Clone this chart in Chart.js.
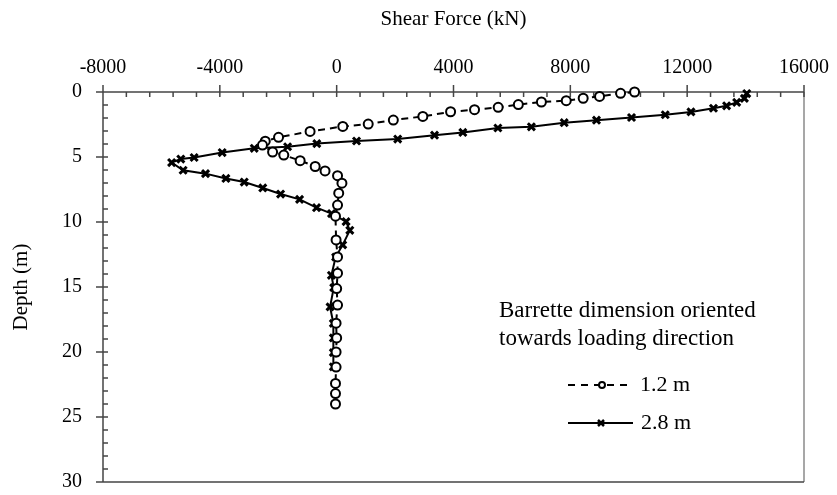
<!DOCTYPE html>
<html>
<head>
<meta charset="utf-8">
<script src="https://cdn.jsdelivr.net/npm/chart.js@4.4.1/dist/chart.umd.min.js"></script>
<style>
  html, body { margin: 0; padding: 0; background: #fff; }
  #wrap { width: 837px; height: 495px; }
</style>
</head>
<body>
<div id="wrap"><canvas id="c" width="837" height="495"></canvas></div>
<script>
// Shear force profile along the barrette depth, two barrette sizes.
const depth12 = [0, 0.1, 0.34, 0.48, 0.67, 0.77, 0.97, 1.18, 1.36, 1.52, 1.88, 2.16, 2.47, 2.65,
  3.03, 3.49, 3.78, 4.08, 4.62, 4.85, 5.28, 5.73, 6.07, 6.44, 7.01, 7.78, 8.7, 9.55,
  11.38, 12.69, 13.94, 15.12, 16.39, 17.78, 18.92, 20.0, 21.16, 22.42, 23.2, 24.0];
const shear12 = [10200, 9720, 9000, 8440, 7860, 7010, 6220, 5530, 4720, 3900, 2950, 1940, 1080, 210,
  -910, -1990, -2445, -2540, -2194, -1810, -1250, -735, -398, 30, 180, 70, 30, -40,
  -20, 30, 30, 0, 30, -20, 0, -20, -20, -40, -40, -40];

const depth28 = [0.12, 0.49, 0.8, 1.06, 1.25, 1.53, 1.75, 1.96, 2.17, 2.36, 2.68, 2.77, 3.11, 3.32,
  3.62, 3.77, 3.97, 4.21, 4.33, 4.66, 5.04, 5.16, 5.43, 6.02, 6.28, 6.65, 6.93, 7.38,
  7.85, 8.26, 8.9, 9.35, 9.97, 10.64, 11.76, 12.7, 14.1, 15.05, 16.53, 17.8, 18.92, 20.05, 21.14];
const shear28 = [14040, 13960, 13695, 13350, 12900, 12130, 11250, 10095, 8895, 7790, 6666, 5520, 4320, 3350,
  2090, 680, -680, -1680, -2822, -3920, -4880, -5336, -5650, -5257, -4490, -3792, -3165, -2530,
  -1920, -1270, -690, -175, 322, 450, 206, -35, -180, -100, -226, -113, -113, -113, -113];

const shearTicks = [-8000, -4000, 0, 4000, 8000, 12000, 16000];
const depthTicks = [0, 5, 10, 15, 20, 25, 30];
const seriesNames = ['1.2 m', '2.8 m'];
const legendTitle = ['Barrette dimension oriented', 'towards loading direction'];
const xTitle = 'Shear Force (kN)';
const yTitle = 'Depth (m)';

const FONT = "'Liberation Serif', 'Times New Roman', serif";
const AXIS = '#454545';

const toPoints = (xs, ys) => xs.map((v, i) => ({ x: v, y: ys[i] }));

// Frame, major/minor tick marks drawn from the scales
const framePlugin = {
  id: 'frame',
  beforeDatasetsDraw(chart) {
    const { ctx, chartArea: a, scales: { x, y } } = chart;
    ctx.save();
    ctx.lineWidth = 1.5;
    ctx.strokeStyle = '#8a8a8a';
    ctx.beginPath();
    ctx.moveTo(a.right, a.top); ctx.lineTo(a.right, a.bottom);
    ctx.stroke();
    ctx.strokeStyle = AXIS;
    ctx.beginPath();
    ctx.moveTo(a.left, a.top); ctx.lineTo(a.right, a.top);
    ctx.moveTo(a.left, a.top); ctx.lineTo(a.left, a.bottom);
    ctx.moveTo(a.left, a.bottom); ctx.lineTo(a.right, a.bottom);
    const xMin = shearTicks[0], xMax = shearTicks[shearTicks.length - 1];
    const xStep = shearTicks[1] - shearTicks[0];
    for (let v = xMin; v <= xMax; v += xStep / 5) {
      const px = x.getPixelForValue(v);
      const major = (v - xMin) % xStep === 0;
      ctx.moveTo(px, major ? a.top - 7 : a.top);
      ctx.lineTo(px, a.top + 5);
    }
    const yMin = depthTicks[0], yMax = depthTicks[depthTicks.length - 1];
    const yStep = depthTicks[1] - depthTicks[0];
    for (let d = yMin; d <= yMax; d += yStep / 5) {
      const py = y.getPixelForValue(d);
      const major = (d - yMin) % yStep === 0;
      ctx.moveTo(major ? a.left - 7 : a.left, py);
      ctx.lineTo(a.left + 5, py);
    }
    ctx.stroke();
    ctx.restore();
  }
};

// Legend block inside the plot
const legendPlugin = {
  id: 'boxLegend',
  afterDatasetsDraw(chart) {
    const { ctx } = chart;
    ctx.save();
    ctx.fillStyle = '#000';
    ctx.font = '23px ' + FONT;
    ctx.textAlign = 'left';
    ctx.textBaseline = 'alphabetic';
    ctx.fillText(legendTitle[0], 499, 317);
    ctx.fillText(legendTitle[1], 499, 345);

    ctx.strokeStyle = '#000';
    ctx.lineWidth = 2;
    // 1.2 m sample
    ctx.setLineDash([7, 6]);
    ctx.beginPath(); ctx.moveTo(568, 385); ctx.lineTo(628, 385); ctx.stroke();
    ctx.setLineDash([]);
    ctx.fillStyle = '#fff';
    ctx.beginPath(); ctx.arc(602, 385, 3, 0, Math.PI * 2); ctx.fill(); ctx.stroke();
    // 2.8 m sample
    ctx.beginPath(); ctx.moveTo(568, 423); ctx.lineTo(633, 423); ctx.stroke();
    ctx.lineWidth = 2.5;
    ctx.beginPath();
    ctx.moveTo(598, 420); ctx.lineTo(604, 426);
    ctx.moveTo(604, 420); ctx.lineTo(598, 426);
    ctx.stroke();

    ctx.fillStyle = '#000';
    ctx.font = '22px ' + FONT;
    ctx.textBaseline = 'middle';
    ctx.fillText(seriesNames[0], 640, 385);
    ctx.fillText(seriesNames[1], 641, 423);
    ctx.restore();
  }
};

new Chart(document.getElementById('c'), {
  type: 'scatter',
  data: {
    datasets: [
      {
        label: seriesNames[0],
        data: toPoints(shear12, depth12),
        showLine: true,
        borderColor: '#000',
        borderWidth: 2,
        borderDash: [7, 5],
        pointStyle: 'circle',
        pointRadius: 4.5,
        pointBorderWidth: 2,
        pointBorderColor: '#000',
        pointBackgroundColor: '#fff',
        clip: false
      },
      {
        label: seriesNames[1],
        data: toPoints(shear28, depth28),
        showLine: true,
        borderColor: '#000',
        borderWidth: 2,
        pointStyle: 'crossRot',
        pointRadius: 5,
        pointBorderWidth: 3,
        pointBorderColor: '#000',
        pointBackgroundColor: '#000',
        clip: false
      }
    ]
  },
  options: {
    responsive: false,
    animation: false,
    devicePixelRatio: 1,
    layout: { padding: { left: 0, top: 0, right: 33, bottom: 13 } },
    plugins: { legend: { display: false }, tooltip: { enabled: false } },
    scales: {
      x: {
        type: 'linear',
        position: 'top',
        min: shearTicks[0],
        max: shearTicks[shearTicks.length - 1],
        afterBuildTicks: s => { s.ticks = shearTicks.map(v => ({ value: v })); },
        afterFit: s => { s.height = 92; s.paddingLeft = 0; s.paddingRight = 0; },
        grid: { display: false, drawTicks: false },
        border: { display: false },
        ticks: { font: { family: FONT, size: 20 }, color: '#000', padding: 12, maxRotation: 0,
                 callback: v => String(v) },
        title: { display: true, text: xTitle, font: { family: FONT, size: 21 }, color: '#000', padding: { top: 7 } }
      },
      y: {
        type: 'linear',
        reverse: true,
        min: depthTicks[0],
        max: depthTicks[depthTicks.length - 1],
        afterBuildTicks: s => { s.ticks = depthTicks.map(v => ({ value: v })); },
        afterFit: s => { s.width = 103; s.paddingTop = 0; s.paddingBottom = 0; },
        grid: { display: false, drawTicks: false },
        border: { display: false },
        ticks: { font: { family: FONT, size: 20 }, color: '#000', padding: 21,
                 callback: v => String(v) },
        title: { display: true, text: yTitle, font: { family: FONT, size: 21 }, color: '#000', padding: { top: 9 } }
      }
    }
  },
  plugins: [framePlugin, legendPlugin]
});
</script>
</body>
</html>
